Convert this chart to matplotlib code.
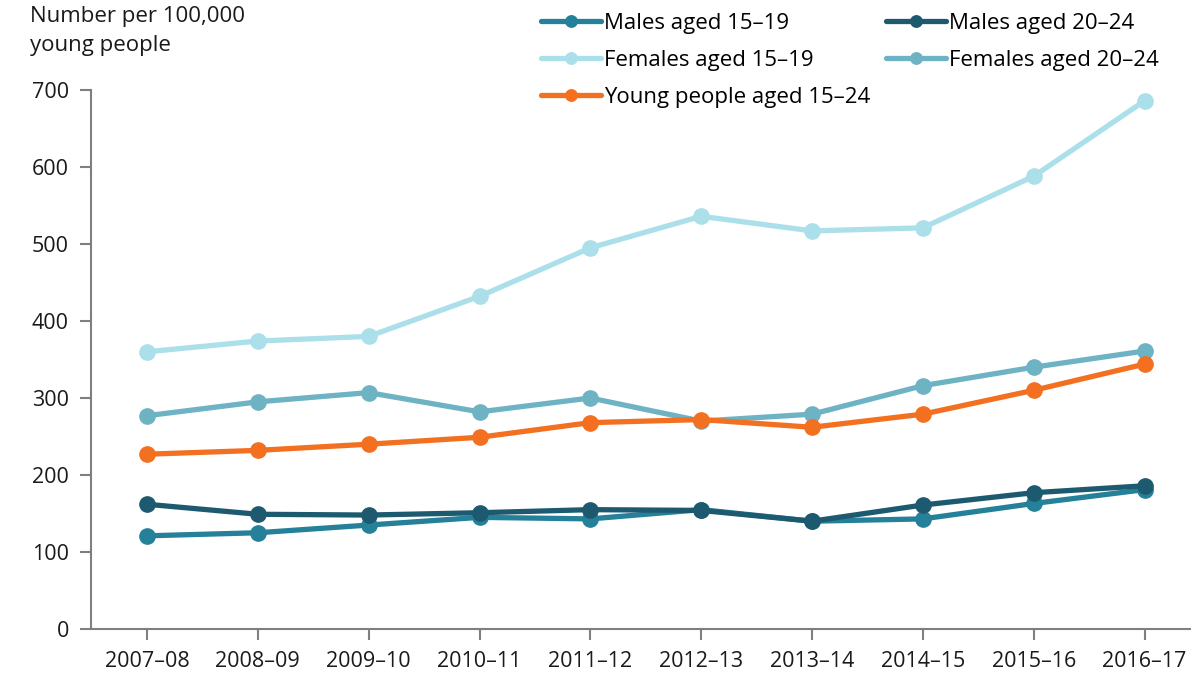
import matplotlib.pyplot as plt

plt.rcParams['font.family'] = ['Open Sans', 'DejaVu Sans']

years = ['2007–08', '2008–09', '2009–10', '2010–11', '2011–12',
         '2012–13', '2013–14', '2014–15', '2015–16', '2016–17']

males_15_19 = [121, 125, 135, 145, 143, 155, 140, 143, 163, 181]
males_20_24 = [162, 149, 148, 151, 155, 154, 140, 161, 177, 186]
females_15_19 = [360, 374, 380, 432, 495, 536, 517, 521, 588, 686]
females_20_24 = [277, 295, 307, 282, 300, 270, 279, 316, 340, 361]
young_15_24 = [227, 232, 240, 249, 268, 272, 262, 279, 310, 344]

series = [
    ('Males aged 15–19', males_15_19, '#25809a', 3),
    ('Males aged 20–24', males_20_24, '#1d5a70', 4),
    ('Females aged 15–19', females_15_19, '#abdfea', 1),
    ('Females aged 20–24', females_20_24, '#6eb3c3', 2),
    ('Young people aged 15–24', young_15_24, '#f37021', 5),
]

fig = plt.figure(figsize=(11.91, 6.75), dpi=100)
ax = fig.add_axes([91 / 1191, 1 - 629 / 675, 1099 / 1191, 539 / 675])

x = list(range(len(years)))
handles = {}
for label, vals, color, z in series:
    line, = ax.plot(x, vals, color=color, linewidth=3.8, marker='o', markersize=11,
                    label=label, zorder=z, solid_capstyle='round')
    handles[label] = line

ax.set_ylim(0, 700)
ax.set_yticks(range(0, 701, 100))
ax.set_xlim(-0.505, 9.41)
ax.set_xticks(x)
ax.set_xticklabels(years)

for side in ['top', 'right']:
    ax.spines[side].set_visible(False)
for side in ['left', 'bottom']:
    ax.spines[side].set_color('#7f7f7f')
    ax.spines[side].set_linewidth(1.5)
ax.tick_params(axis='both', colors='#7f7f7f', labelcolor='#1a1a1a',
               labelsize=15.5, width=1.5, length=8, direction='out')
ax.tick_params(axis='y', pad=8)
ax.tick_params(axis='x', pad=8)

fig.text(30 / 1191, 1 - 6 / 675, 'Number per 100,000\nyoung people',
         fontsize=16, color='#1a1a1a', va='top', ha='left', linespacing=1.5)

# legend filled row by row: reorder for column-major layout
order = ['Males aged 15–19', 'Females aged 15–19', 'Young people aged 15–24',
         'Males aged 20–24', 'Females aged 20–24']
ax.legend([handles[k] for k in order], order,
          loc='upper left', bbox_to_anchor=(530 / 1191, 1 - 2 / 675), bbox_transform=fig.transFigure,
          ncol=2, frameon=False, fontsize=16, handlelength=2.7, handletextpad=0.14,
          columnspacing=0.7, labelspacing=0.72, borderaxespad=0.1, markerscale=0.75)

plt.savefig('out.png', dpi=100)
plt.close()
